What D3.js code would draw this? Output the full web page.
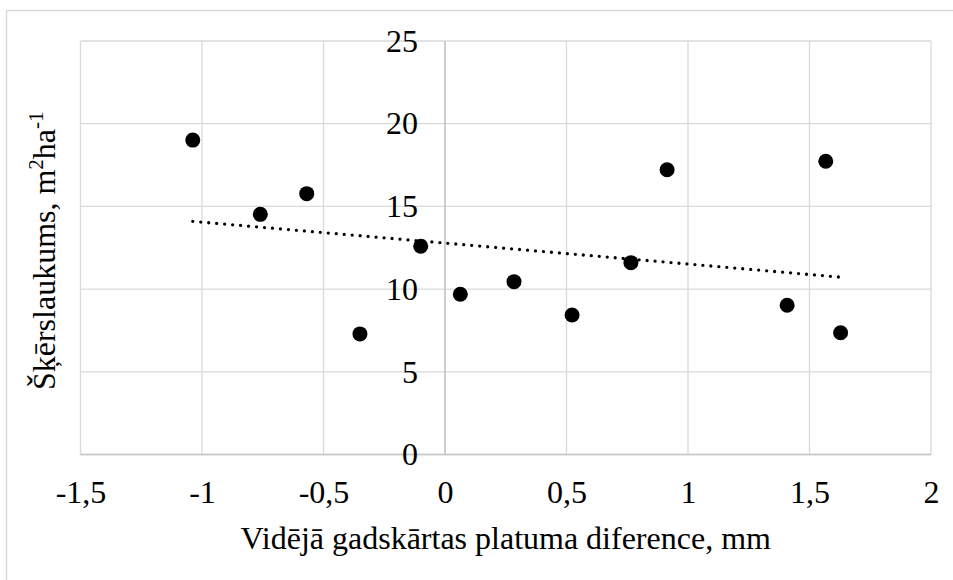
<!DOCTYPE html>
<html lang="lv">
<head>
    <meta charset="UTF-8">
    <title>Šķērslaukums un gadskārtas platuma diference</title>
    <script src="https://cdnjs.cloudflare.com/ajax/libs/d3/7.8.5/d3.min.js"></script>
    <style>
        body { margin: 0; background: #fff; }
        .grid line { stroke: #d9d9d9; stroke-width: 1.3px; }
        .zero line { stroke: #c6c6c6; stroke-width: 1.5px; }
    </style>
</head>
<body>
    <div id="chart"></div>

    <script>
        // dati nolasīti no attēla
        const xValues = [-1.038, -0.760, -0.569, -0.350, -0.100, 0.063, 0.284, 0.523, 0.765, 0.914, 1.408, 1.567, 1.628];
        const yValues = [19.01, 14.52, 15.77, 7.29, 12.59, 9.69, 10.45, 8.43, 11.60, 17.22, 9.02, 17.73, 7.36];
        const xTicks = [-1.5, -1, -0.5, 0, 0.5, 1, 1.5, 2];
        const yTicks = [0, 5, 10, 15, 20, 25];
        const xTitle = "Vidējā gadskārtas platuma diference, mm";

        const width = 953;
        const height = 580;
        const plot = { left: 80.5, right: 931, top: 41, bottom: 454.5 };
        const fontName = "'Liberation Serif'";

        const lv = d3.formatLocale({ decimal: ",", thousands: " ", grouping: [3], currency: ["", " €"], minus: "-" });
        const fmt = lv.format("~g");

        const svg = d3.select("#chart").append("svg")
            .attr("width", width)
            .attr("height", height);

        // ārējais rāmis
        svg.append("rect")
            .attr("x", 6.5).attr("y", 10.5)
            .attr("width", width + 10).attr("height", height + 10)
            .attr("fill", "#fff")
            .attr("stroke", "#d9d9d9")
            .attr("stroke-width", 1.5);

        const x = d3.scaleLinear().domain([-1.5, 2]).range([plot.left, plot.right]);
        const y = d3.scaleLinear().domain([0, 25]).range([plot.bottom, plot.top]);

        // režģis
        const grid = svg.append("g").attr("class", "grid");
        grid.selectAll(".v").data(xTicks).enter().append("line")
            .attr("x1", d => x(d)).attr("x2", d => x(d))
            .attr("y1", plot.top).attr("y2", plot.bottom);
        grid.selectAll(".h").data(yTicks).enter().append("line")
            .attr("x1", plot.left).attr("x2", plot.right)
            .attr("y1", d => y(d)).attr("y2", d => y(d));

        // asis caur nulli
        const zero = svg.append("g").attr("class", "zero");
        zero.append("line")
            .attr("x1", x(0)).attr("x2", x(0))
            .attr("y1", plot.top).attr("y2", plot.bottom);
        zero.append("line")
            .attr("x1", plot.left).attr("x2", plot.right)
            .attr("y1", y(0)).attr("y2", y(0));

        // ass iezīmes
        const xAxis = svg.append("g")
            .attr("transform", "translate(0," + y(0) + ")")
            .call(d3.axisBottom(x).tickValues(xTicks).tickFormat(fmt).tickSize(0).tickPadding(26));
        const yAxis = svg.append("g")
            .attr("transform", "translate(" + x(0) + ",0)")
            .call(d3.axisLeft(y).tickValues(yTicks).tickFormat(fmt).tickSize(0).tickPadding(27));
        [xAxis, yAxis].forEach(function(g) {
            g.attr("font-family", null).attr("font-size", null);
            g.select(".domain").remove();
            g.selectAll("text")
                .style("font-family", fontName)
                .style("font-size", "32px")
                .style("fill", "#000");
        });

        // tendences līnija (lineārā regresija)
        const mx = d3.mean(xValues);
        const my = d3.mean(yValues);
        const slope = d3.sum(xValues, (d, i) => (d - mx) * (yValues[i] - my)) /
                      d3.sum(xValues, d => (d - mx) * (d - mx));
        const x0 = d3.min(xValues), x1 = d3.max(xValues);
        const trend = [[x0, my + slope * (x0 - mx)], [x1, my + slope * (x1 - mx)]];

        svg.append("path")
            .datum(trend)
            .attr("d", d3.line().x(d => x(d[0])).y(d => y(d[1])))
            .attr("fill", "none")
            .attr("stroke", "#000")
            .attr("stroke-width", 3.3)
            .attr("stroke-linecap", "round")
            .attr("stroke-dasharray", "0,8");

        // punkti
        svg.selectAll(".dot")
            .data(xValues)
            .enter().append("circle")
            .attr("class", "dot")
            .attr("cx", d => x(d))
            .attr("cy", (d, i) => y(yValues[i]))
            .attr("r", 7.5)
            .attr("fill", "#000");

        // asu nosaukumi
        svg.append("text")
            .attr("x", (plot.left + plot.right) / 2)
            .attr("y", 549)
            .attr("text-anchor", "middle")
            .style("font-family", fontName)
            .style("font-size", "32px")
            .text(xTitle);

        const yt = svg.append("text")
            .attr("transform", "translate(55," + ((plot.top + plot.bottom) / 2 + 3) + ") rotate(-90)")
            .attr("text-anchor", "middle")
            .style("font-family", fontName)
            .style("font-size", "32px");
        yt.append("tspan").text("Šķērslaukums, m");
        yt.append("tspan").attr("dy", -12).style("font-size", "21px").text("2");
        yt.append("tspan").attr("dy", 12).text("ha");
        yt.append("tspan").attr("dy", -12).style("font-size", "21px").text("-1");
    </script>
</body>
</html>
